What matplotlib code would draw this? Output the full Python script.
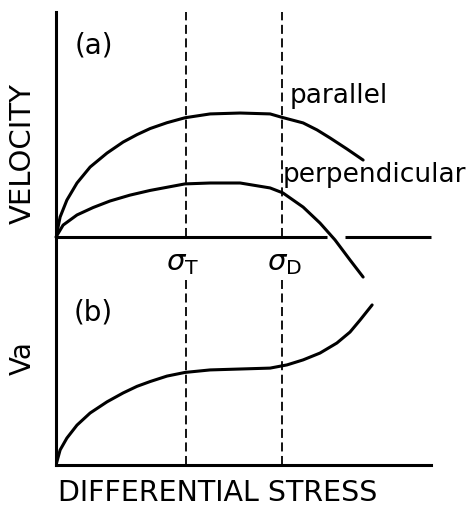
import numpy as np
import matplotlib
matplotlib.use("Agg")
import matplotlib.pyplot as plt

plt.rcParams["font.family"] = "DejaVu Sans"
plt.rcParams["mathtext.fontset"] = "dejavusans"

# ---------- data (schematic) ----------
sigma_T = 3.47
sigma_D = 6.03

# (a) velocity curves
par_x = [0, 0.11, 0.29, 0.56, 0.91, 1.36, 1.79, 2.16, 2.51, 2.96, 3.44, 4.11, 4.91,
         5.71, 6.0, 6.59, 6.96, 7.31, 7.76, 8.19]
par_y = [0, 0.89, 1.64, 2.4, 3.11, 3.73, 4.22, 4.55, 4.82, 5.08, 5.3, 5.47, 5.51,
         5.47, 5.33, 5.07, 4.76, 4.4, 3.91, 3.42]

perp_x = [0, 0.19, 0.56, 0.99, 1.44, 1.97, 2.51, 3.44, 4.11, 4.91, 5.71, 6.05, 6.59,
          7.04, 7.44, 7.84, 8.19]
perp_y = [0, 0.53, 0.98, 1.31, 1.6, 1.86, 2.07, 2.36, 2.4, 2.4, 2.18, 1.96, 1.33,
          0.62, -0.13, -1.02, -1.78]

# (b) Va curve
va_x = [0, 0.11, 0.29, 0.56, 0.91, 1.36, 1.79, 2.16, 2.51, 2.96, 3.44, 4.11, 4.91,
        5.71, 6.16, 6.59, 7.04, 7.49, 7.84, 8.11, 8.43]
va_y = [0, 0.66, 1.18, 1.75, 2.28, 2.77, 3.16, 3.45, 3.66, 3.9, 4.06, 4.17, 4.21,
        4.25, 4.39, 4.61, 4.91, 5.35, 5.83, 6.36, 7.02]

# gap in the (a) stress axis where the perpendicular curve crosses
axis_gap = (7.23, 7.71)

W, H = 469, 511
fig = plt.figure(figsize=(W / 100, H / 100), dpi=100)

left = 56 / W
width = 375 / W
ax_a = fig.add_axes([left, (H - 237) / H, width, (237 - 12) / H])
ax_b = fig.add_axes([left, (H - 465) / H, width, (465 - 237) / H])

lw = 2.2
for ax in (ax_a, ax_b):
    ax.set_xlim(0, 10)
    ax.set_ylim(0, 10)
    ax.patch.set_visible(False)
    for s in ["top", "right"]:
        ax.spines[s].set_visible(False)
    ax.spines["left"].set_linewidth(lw)
    ax.spines["bottom"].set_linewidth(lw)
    ax.set_xticks([])
    ax.set_yticks([])

# ---------- (a) ----------
ax_a.spines["bottom"].set_visible(False)
ax_a.hlines(0, 0, axis_gap[0], color="black", lw=lw, clip_on=False)
ax_a.hlines(0, axis_gap[1], 10, color="black", lw=lw, clip_on=False)

ax_a.plot(par_x, par_y, color="black", lw=lw, solid_joinstyle="round", solid_capstyle="round")
ax_a.plot(perp_x, perp_y, color="black", lw=lw, solid_joinstyle="round",
          solid_capstyle="round", clip_on=False)

for s in (sigma_T, sigma_D):
    ax_a.vlines(s, 0, 10, color="black", lw=1.3, linestyles=(0, (5, 2.5)))

ax_a.text(1.01, 8.49, "(a)", fontsize=20, ha="center", va="center")
ax_a.text(6.24, 5.96, "parallel", fontsize=19, ha="left", va="baseline")
ax_a.text(6.05, 2.44, "perpendicular", fontsize=19, ha="left", va="baseline")

# ---------- (b) ----------
ax_b.plot(va_x, va_y, color="black", lw=lw, solid_joinstyle="round", solid_capstyle="round")
for s in (sigma_T, sigma_D):
    ax_b.vlines(s, 0, 8.1, color="black", lw=1.3, linestyles=(0, (5, 2.5)))

ax_b.text(sigma_T - 0.1, 8.85, r"$\sigma_\mathrm{T}$", fontsize=21, ha="center", va="center")
ax_b.text(sigma_D + 0.05, 8.85, r"$\sigma_\mathrm{D}$", fontsize=21, ha="center", va="center")
ax_b.text(0.99, 6.71, "(b)", fontsize=20, ha="center", va="center")

# ---------- axis titles ----------
fig.text(23 / W, 1 - 153 / H, "VELOCITY", fontsize=21, rotation=90, ha="center", va="center")
fig.text(23 / W, 1 - 358 / H, "Va", fontsize=20, rotation=90, ha="center", va="center")
fig.text(58 / W, 1 - 492.5 / H, "DIFFERENTIAL STRESS", fontsize=20.5, ha="left", va="center")

fig.savefig("out.png", dpi=100)
